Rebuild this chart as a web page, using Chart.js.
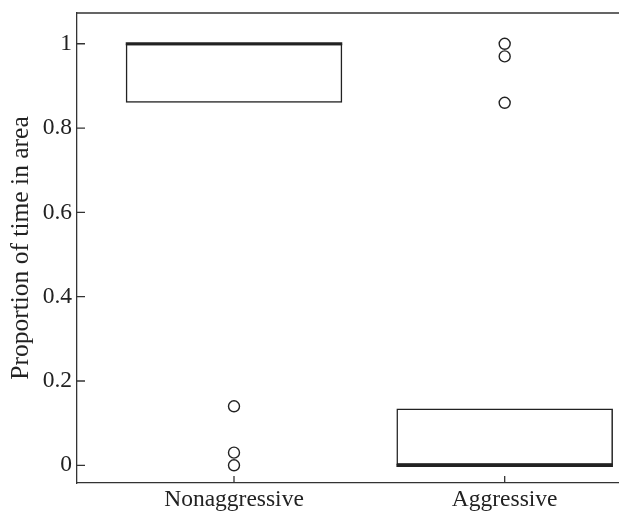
<!DOCTYPE html>
<html>
<head>
<meta charset="utf-8">
<script src="https://cdn.jsdelivr.net/npm/chart.js@4"></script>
<style>
  html, body { margin: 0; padding: 0; background: #fff; }
  #wrap { position: relative; width: 619px; height: 512px; }
</style>
</head>
<body>
<div id="wrap"><canvas id="boxChart"></canvas></div>
<script>
// data
const categories = ['Nonaggressive', 'Aggressive'];
const q1 = [0.86, 0];
const q3 = [1.0, 0.135];
const medians = [1.0, 0];
const outliers = [
    [0.14, 0.03, 0],
    [1.0, 0.97, 0.86]
];
const yTicks = [0, 0.2, 0.4, 0.6, 0.8, 1];
const yTickLabels = ['0', '0.2', '0.4', '0.6', '0.8', '1'];
const yTitle = 'Proportion of time in area';

const BOX_WIDTH = 0.8;
const INK = '#222';
const FONT = 'Liberation Serif';

// inward tick marks + top frame line
const frame = {
    id: 'frame',
    afterDraw(chart) {
        const { ctx, chartArea: a, scales } = chart;
        ctx.save();
        ctx.strokeStyle = '#333';
        ctx.lineWidth = 1.3;
        ctx.beginPath();
        ctx.moveTo(a.left, a.top);
        ctx.lineTo(a.right, a.top);
        scales.y.ticks.forEach(t => {
            const y = scales.y.getPixelForValue(t.value);
            ctx.moveTo(a.left, y);
            ctx.lineTo(a.left + 8, y);
        });
        scales.x.ticks.forEach(t => {
            const x = scales.x.getPixelForValue(t.value);
            ctx.moveTo(x, a.bottom);
            ctx.lineTo(x, a.bottom - 7);
        });
        ctx.stroke();
        ctx.restore();
    }
};

const boxData = categories.map((c, i) => ({ x: i + 1, y: [q1[i], q3[i]] }));

const medianSets = medians.map((m, i) => ({
    type: 'line',
    data: [{ x: i + 1 - BOX_WIDTH / 2, y: m }, { x: i + 1 + BOX_WIDTH / 2, y: m }],
    borderColor: INK,
    borderWidth: 3.2,
    borderCapStyle: 'butt',
    pointRadius: 0,
    order: 0
}));

const outlierData = [];
outliers.forEach((vals, i) => vals.forEach(v => outlierData.push({ x: i + 1, y: v })));

new Chart(document.getElementById('boxChart'), {
    type: 'bar',
    data: {
        datasets: [
            {
                label: 'box',
                data: boxData,
                backgroundColor: 'rgba(255,255,255,0)',
                borderColor: INK,
                borderWidth: 1.5,
                borderSkipped: false,
                barPercentage: BOX_WIDTH,
                categoryPercentage: 1,
                grouped: false,
                order: 1
            },
            ...medianSets,
            {
                type: 'scatter',
                data: outlierData,
                pointStyle: 'circle',
                pointRadius: 5.5,
                pointBorderWidth: 1.4,
                pointBorderColor: INK,
                pointBackgroundColor: 'rgba(255,255,255,0)',
                order: 0
            }
        ]
    },
    options: {
        responsive: true,
        maintainAspectRatio: false,
        animation: false,
        layout: { autoPadding: false, padding: { top: 13, left: 0, right: 0, bottom: 0 } },
        plugins: { legend: { display: false }, tooltip: { enabled: false } },
        scales: {
            x: {
                type: 'linear',
                min: 0.42,
                max: 2.4223,
                offset: false,
                afterBuildTicks: s => { s.ticks = categories.map((c, i) => ({ value: i + 1 })); },
                afterFit: s => { s.height = 29; s.paddingLeft = 0; s.paddingRight = 0; },
                ticks: {
                    callback: (v, i) => categories[i],
                    color: INK,
                    padding: 3,
                    maxRotation: 0,
                    autoSkip: false,
                    font: { family: FONT, size: 23.5 }
                },
                grid: { display: true, drawOnChartArea: false, drawTicks: false },
                border: { display: true, color: '#333', width: 1.3 }
            },
            y: {
                type: 'linear',
                min: -0.042,
                max: 1.073,
                afterBuildTicks: s => { s.ticks = yTicks.map(v => ({ value: v })); },
                afterFit: s => { s.width = 77; s.paddingTop = 0; s.paddingBottom = 0; },
                ticks: {
                    callback: (v, i) => yTickLabels[i],
                    color: INK,
                    padding: 5,
                    font: { family: FONT, size: 23.5 }
                },
                grid: { display: true, drawOnChartArea: false, drawTicks: false },
                border: { display: true, color: '#333', width: 1.3 },
                title: {
                    display: true,
                    text: yTitle,
                    color: INK,
                    padding: { top: 6, bottom: 4 },
                    font: { family: FONT, size: 25.5 }
                }
            }
        }
    },
    plugins: [frame]
});
</script>
</body>
</html>
